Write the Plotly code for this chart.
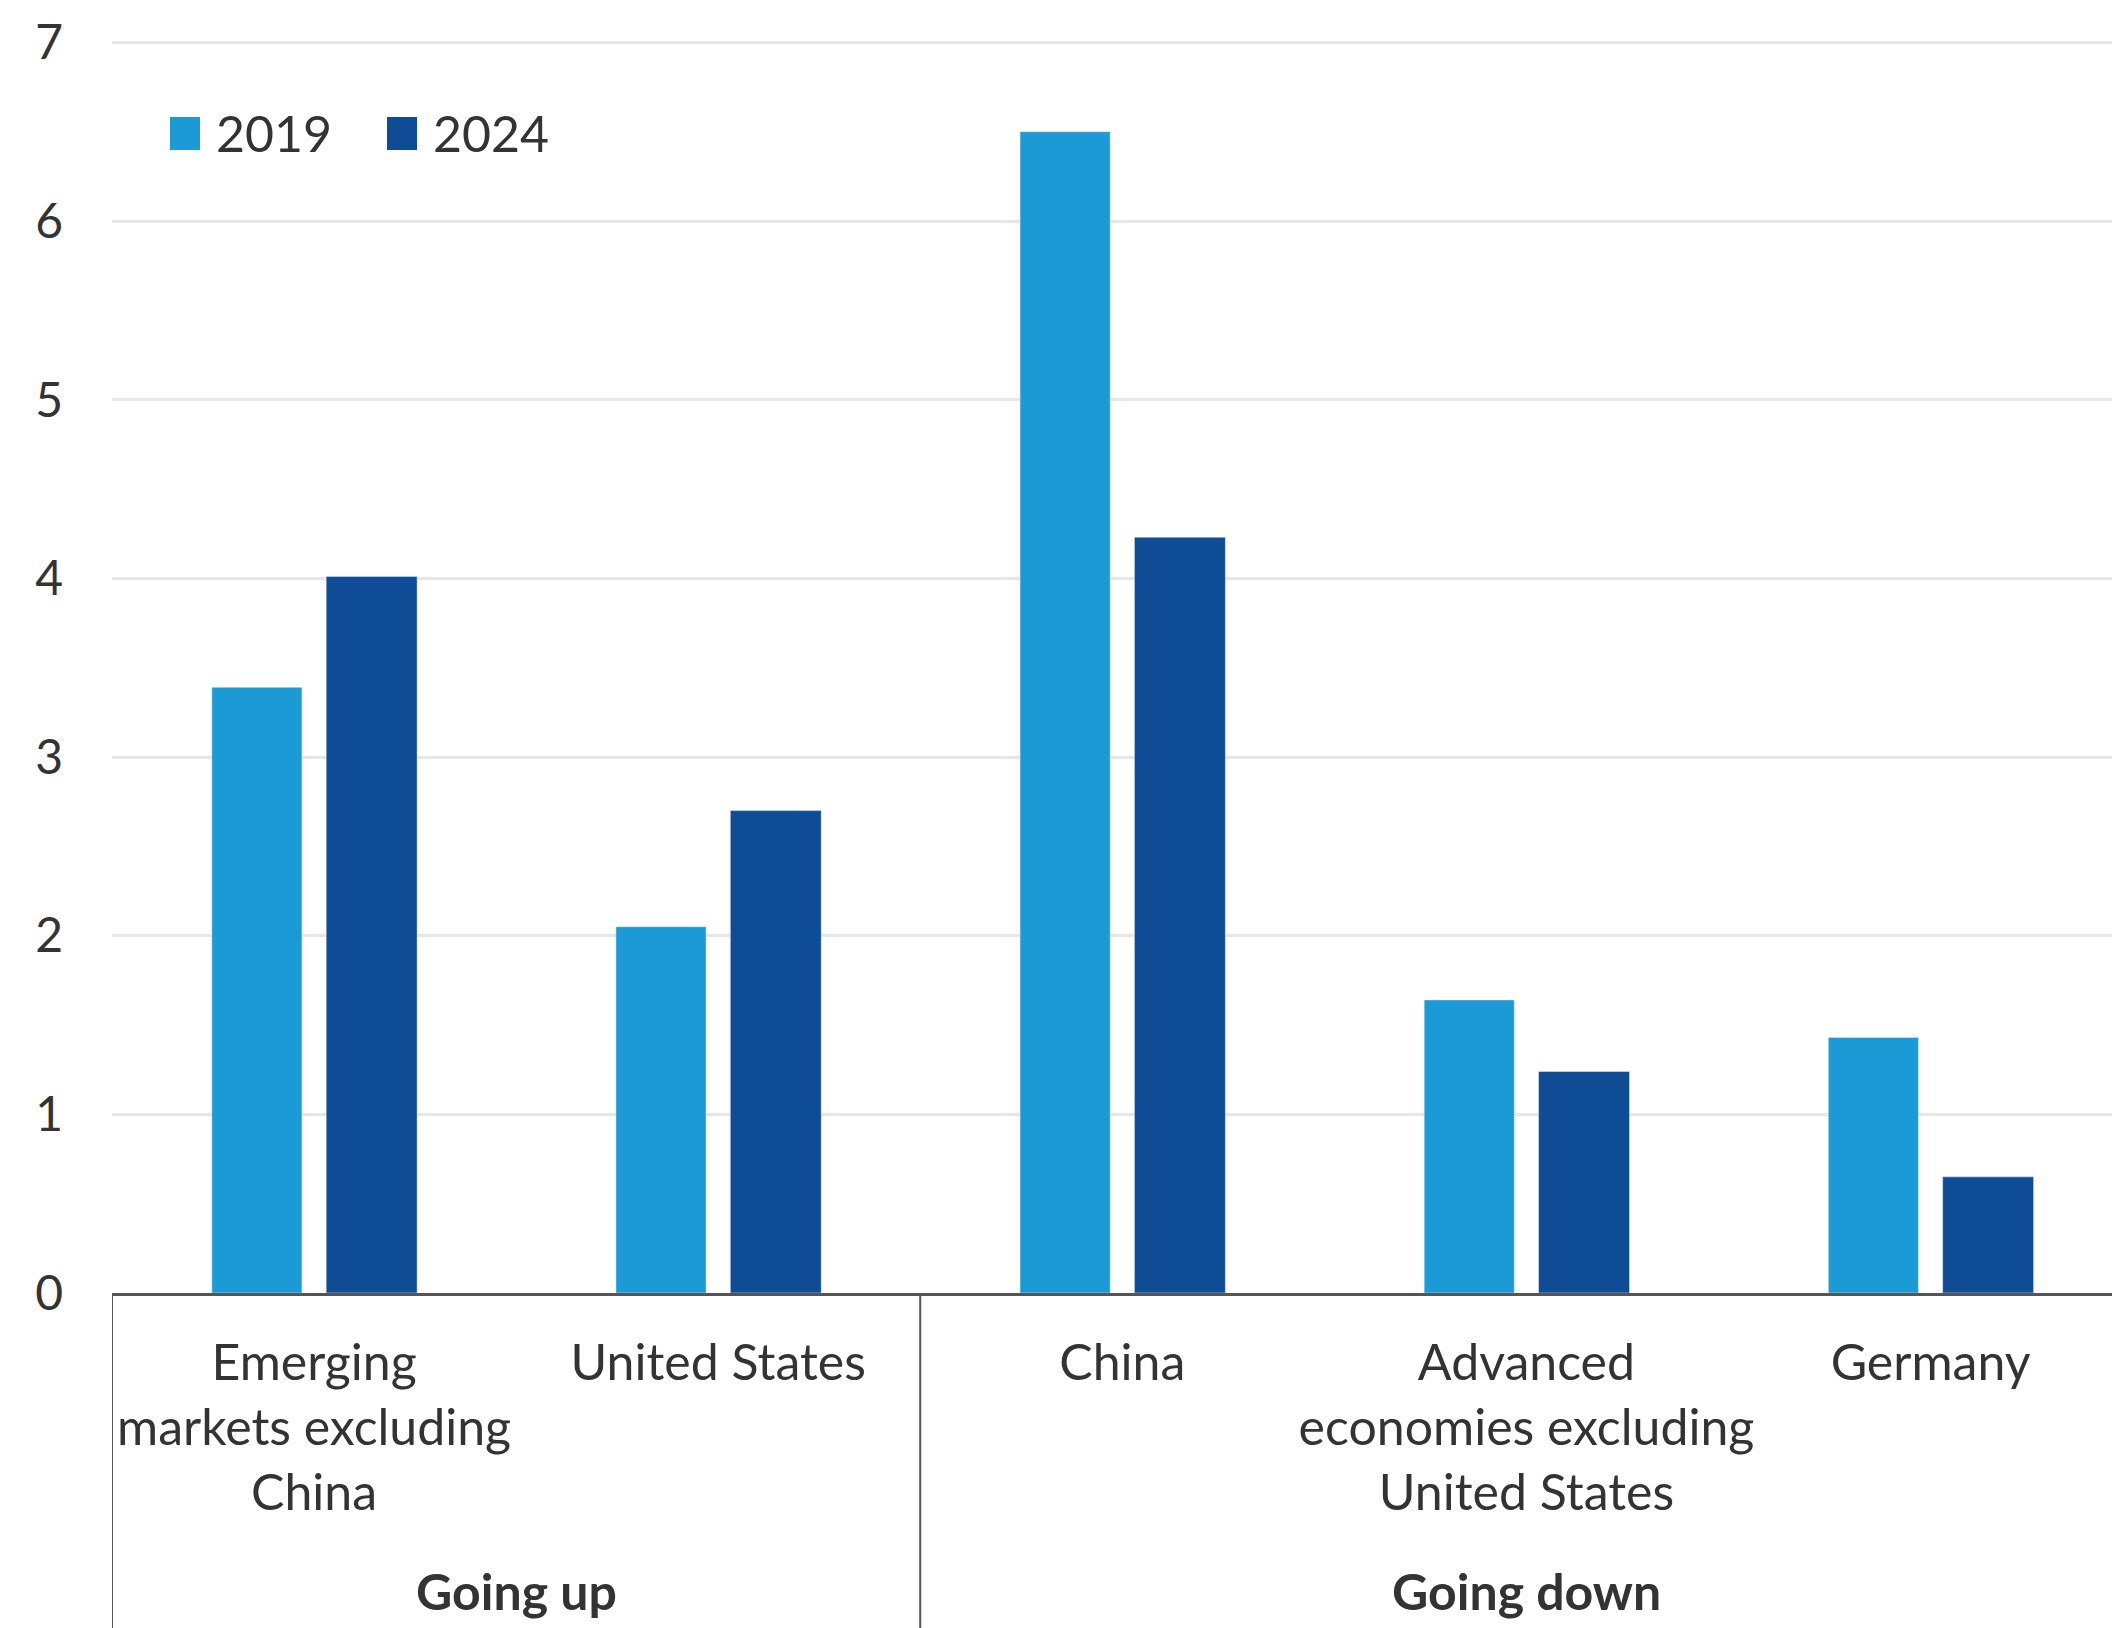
import plotly.graph_objects as go

categories = [
    "Emerging<br>markets excluding<br>China",
    "United States",
    "China",
    "Advanced<br>economies excluding<br>United States",
    "Germany",
]
values_2019 = [3.39, 2.05, 6.50, 1.64, 1.43]
values_2024 = [4.01, 2.70, 4.23, 1.24, 0.65]
groups = ["Going up", "Going down"]
group_centers = [0.5, 3.0]
group_edges = [-0.5, 1.5]
series_names = ["2019", "2024"]
colors = ["#1b9ad6", "#0e4c95"]
y_ticks = [0, 1, 2, 3, 4, 5, 6, 7]

FONT = "Lato"
TXT = "#333333"
x_pos = list(range(len(categories)))

PLOT_H = 1256
fig = go.Figure()
fig.add_trace(go.Bar(x=x_pos, y=values_2019, name=series_names[0], marker_color=colors[0],
                     width=0.223, offset=-0.253, showlegend=False))
fig.add_trace(go.Bar(x=x_pos, y=values_2024, name=series_names[1], marker_color=colors[1],
                     width=0.225, offset=0.030, showlegend=False))

fig.update_layout(
    width=2112, height=1628,
    margin=dict(l=112, r=0, t=1628 - 335 - PLOT_H, b=335),
    paper_bgcolor="white", plot_bgcolor="white",
    barmode="overlay",
    font=dict(family=FONT, size=48, color=TXT),
    xaxis=dict(range=[-0.5, 4.449], tickvals=x_pos, ticktext=categories,
               showgrid=False, zeroline=False, showline=True, linecolor="#555555",
               linewidth=3, ticks="", tickfont=dict(size=50, color=TXT),
               ticklabelstandoff=24),
    yaxis=dict(range=[0, 7.03], tickvals=y_ticks, showgrid=True, gridcolor="#e6e6e6",
               gridwidth=3, zeroline=False, showline=False, ticks="",
               tickfont=dict(size=48, color=TXT), ticklabelstandoff=48),
)

# group separators
for xe in group_edges:
    fig.add_shape(type="line", xref="x", yref="paper", x0=xe, x1=xe, y0=0, y1=-0.3,
                  line=dict(color="#555555", width=2))
for g, xc in zip(groups, group_centers):
    fig.add_annotation(x=xc, xref="x", y=-(1591 - 1293) / PLOT_H, yref="paper",
                       text="<b>" + g + "</b>",
                       showarrow=False, font=dict(size=50, color=TXT), yanchor="middle")

# manual legend
for i, (nm, c) in enumerate(zip(series_names, colors)):
    x0 = (170 - 112) / 2000 if i == 0 else (387 - 112) / 2000
    fig.add_shape(type="rect", xref="paper", yref="paper",
                  x0=x0, x1=x0 + 30 / 2000, y0=(1293 - 150) / PLOT_H, y1=(1293 - 117) / PLOT_H,
                  fillcolor=c, line=dict(width=0))
    fig.add_annotation(xref="paper", yref="paper", x=x0 + 44 / 2000, y=(1293 - 133) / PLOT_H,
                       text=nm, showarrow=False, xanchor="left", yanchor="middle",
                       font=dict(size=50, color=TXT))

fig.write_html("out.html")
